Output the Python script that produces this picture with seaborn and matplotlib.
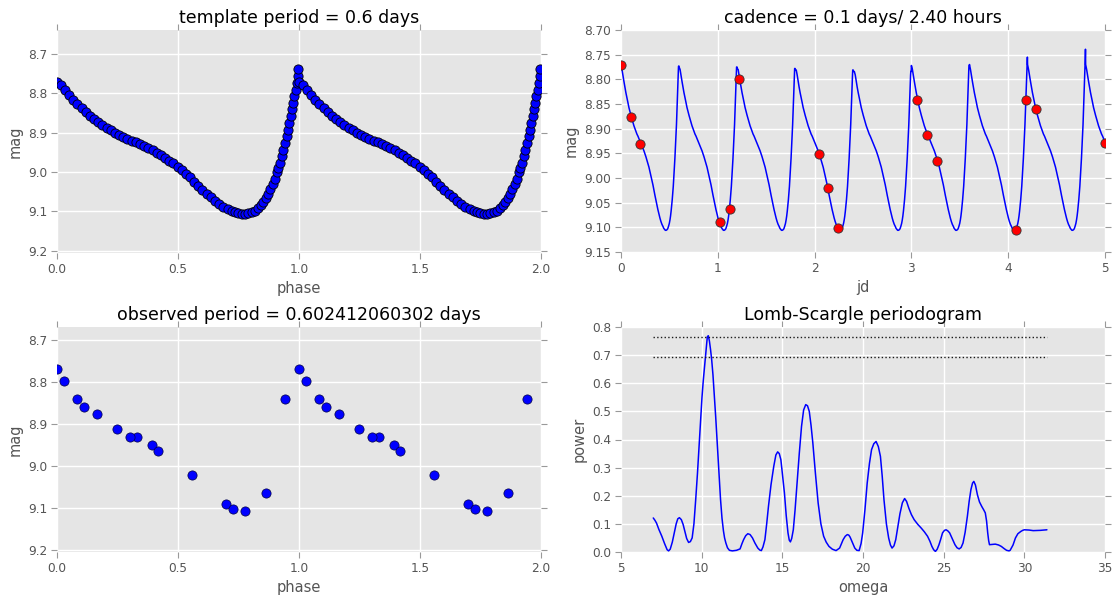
import numpy as np
import matplotlib
matplotlib.use("Agg")
import matplotlib.pyplot as plt
import seaborn as sns

# ---------------- data ----------------
template_period = 0.6
observed_period = 0.602412060302

template_phase = [0.000, 0.017, 0.033, 0.050, 0.067, 0.084, 0.102, 0.119, 0.136, 0.153,
                  0.171, 0.188, 0.205, 0.222, 0.240, 0.257, 0.274, 0.291, 0.309, 0.326,
                  0.343, 0.360, 0.377, 0.395, 0.412, 0.429, 0.446, 0.463, 0.481, 0.498,
                  0.515, 0.532, 0.550, 0.567, 0.584, 0.601, 0.618, 0.635, 0.653, 0.670,
                  0.687, 0.705, 0.722, 0.736, 0.749, 0.763, 0.777, 0.790, 0.804, 0.818,
                  0.832, 0.843, 0.853, 0.863, 0.873, 0.882, 0.891, 0.900, 0.908, 0.915,
                  0.921, 0.928, 0.935, 0.942, 0.949, 0.955, 0.960, 0.966, 0.971, 0.976,
                  0.981, 0.986, 0.990, 0.994, 0.997]
template_mag = [8.770, 8.780, 8.791, 8.804, 8.816, 8.827, 8.837, 8.847, 8.857, 8.865,
                8.873, 8.880, 8.887, 8.894, 8.900, 8.906, 8.911, 8.915, 8.920, 8.925,
                8.930, 8.935, 8.940, 8.945, 8.951, 8.957, 8.964, 8.971, 8.978, 8.987,
                8.996, 9.005, 9.014, 9.025, 9.035, 9.045, 9.055, 9.064, 9.073, 9.081,
                9.088, 9.094, 9.098, 9.102, 9.104, 9.106, 9.106, 9.105, 9.103, 9.098,
                9.092, 9.085, 9.077, 9.067, 9.055, 9.044, 9.031, 9.017, 9.001, 8.989,
                8.976, 8.960, 8.943, 8.926, 8.909, 8.892, 8.875, 8.858, 8.841, 8.825,
                8.808, 8.791, 8.774, 8.755, 8.739]

# brightest level reached by the sampled light curve in each cycle (top-right panel)
cycle_peak_mag = [8.773, 8.775, 8.778, 8.781, 8.784, 8.772, 8.755, 8.737, 8.737]

obs_jd = [0.0, 0.1, 0.2, 1.023, 1.123, 1.223, 2.043, 2.143, 2.245,
          3.061, 3.162, 3.264, 4.082, 4.183, 4.284, 5.0]
obs_mag = [8.770, 8.876, 8.932, 9.089, 9.063, 8.799, 8.951, 9.021, 9.102,
           8.841, 8.913, 8.965, 9.106, 8.841, 8.861, 8.930]

omega = [7.0, 7.1, 7.2, 7.35, 7.53, 7.7, 7.86, 7.95, 8.05, 8.18,
         8.3, 8.42, 8.52, 8.62, 8.74, 8.85, 8.95, 9.07, 9.19, 9.3,
         9.41, 9.52, 9.63, 9.74, 9.85, 9.94, 10.02, 10.1, 10.18, 10.27,
         10.35, 10.41, 10.48, 10.55, 10.62, 10.7, 10.78, 10.87, 10.95, 11.06,
         11.17, 11.26, 11.35, 11.42, 11.5, 11.6, 11.72, 11.9, 12.16, 12.38,
         12.5, 12.6, 12.73, 12.86, 13.0, 13.15, 13.3, 13.48, 13.6, 13.7,
         13.8, 13.92, 14.03, 14.14, 14.3, 14.47, 14.6, 14.71, 14.81, 14.91,
         15.02, 15.13, 15.24, 15.35, 15.43, 15.5, 15.58, 15.68, 15.79, 15.9,
         16.05, 16.19, 16.32, 16.45, 16.56, 16.67, 16.78, 16.89, 17.05, 17.22,
         17.39, 17.56, 17.72, 17.89, 18.1, 18.33, 18.55, 18.77, 18.9, 19.03,
         19.12, 19.2, 19.35, 19.49, 19.62, 19.76, 19.88, 19.98, 20.12, 20.26,
         20.4, 20.53, 20.67, 20.81, 20.95, 21.08, 21.19, 21.3, 21.45, 21.59,
         21.7, 21.8, 21.92, 22.03, 22.16, 22.29, 22.44, 22.58, 22.7, 22.84,
         23.0, 23.17, 23.4, 23.61, 23.8, 24.0, 24.15, 24.27, 24.38, 24.49,
         24.6, 24.71, 24.82, 24.93, 25.05, 25.15, 25.26, 25.37, 25.55, 25.7,
         25.83, 25.96, 26.08, 26.2, 26.33, 26.47, 26.58, 26.69, 26.79, 26.87,
         26.97, 27.09, 27.22, 27.36, 27.48, 27.58, 27.66, 27.73, 27.79, 27.84,
         28.0, 28.2, 28.4, 28.57, 28.75, 28.9, 29.05, 29.12, 29.3, 29.45,
         29.6, 29.78, 29.9, 30.0, 30.3, 30.55, 31.0, 31.4]
power = [0.121, 0.113, 0.103, 0.080, 0.056, 0.030, 0.008, 0.004, 0.010, 0.035,
         0.068, 0.100, 0.118, 0.122, 0.115, 0.098, 0.075, 0.048, 0.034, 0.037,
         0.050, 0.100, 0.186, 0.280, 0.388, 0.480, 0.550, 0.610, 0.660, 0.720,
         0.765, 0.769, 0.750, 0.720, 0.684, 0.630, 0.560, 0.480, 0.400, 0.290,
         0.186, 0.120, 0.075, 0.050, 0.032, 0.015, 0.006, 0.004, 0.006, 0.011,
         0.030, 0.044, 0.058, 0.065, 0.062, 0.050, 0.032, 0.014, 0.007, 0.005,
         0.018, 0.044, 0.100, 0.162, 0.240, 0.305, 0.345, 0.356, 0.350, 0.328,
         0.270, 0.210, 0.130, 0.068, 0.042, 0.036, 0.048, 0.079, 0.150, 0.234,
         0.350, 0.447, 0.505, 0.524, 0.520, 0.500, 0.450, 0.388, 0.280, 0.174,
         0.100, 0.056, 0.035, 0.020, 0.010, 0.005, 0.014, 0.044, 0.056, 0.062,
         0.060, 0.053, 0.033, 0.014, 0.006, 0.005, 0.030, 0.068, 0.150, 0.245,
         0.315, 0.364, 0.385, 0.393, 0.375, 0.340, 0.270, 0.186, 0.100, 0.050,
         0.025, 0.014, 0.022, 0.044, 0.090, 0.136, 0.175, 0.190, 0.180, 0.156,
         0.133, 0.115, 0.098, 0.085, 0.072, 0.056, 0.038, 0.020, 0.008, 0.002,
         0.010, 0.026, 0.046, 0.068, 0.077, 0.079, 0.075, 0.068, 0.045, 0.026,
         0.015, 0.011, 0.016, 0.032, 0.070, 0.127, 0.180, 0.222, 0.245, 0.251,
         0.238, 0.204, 0.178, 0.162, 0.150, 0.139, 0.110, 0.068, 0.040, 0.026,
         0.027, 0.028, 0.025, 0.020, 0.012, 0.006, 0.004, 0.006, 0.025, 0.050,
         0.065, 0.073, 0.077, 0.079, 0.078, 0.076, 0.077, 0.079]
significance_levels = [0.764, 0.693]

titles = ["template period = 0.6 days",
          "cadence = 0.1 days/ 2.40 hours",
          "observed period = 0.602412060302 days",
          "Lomb-Scargle periodogram"]

# ---------------- style ----------------
sns.set_theme(style="darkgrid", rc={
    "axes.facecolor": "#E5E5E5",
    "grid.color": "white",
    "grid.linewidth": 1.0,
    "axes.edgecolor": "#E5E5E5",
})
plt.rcParams["font.family"] = ["DejaVu Sans"]
plt.rcParams["xtick.color"] = "#555555"
plt.rcParams["ytick.color"] = "#555555"
plt.rcParams["axes.labelcolor"] = "#555555"

fig = plt.figure(figsize=(11.12, 5.98), dpi=100)
W, H = 1112.0, 598.0

def make_ax(left, top, right, bottom):
    return fig.add_axes([left / W, 1 - bottom / H, (right - left) / W, (bottom - top) / H])

ax1 = make_ax(57, 30, 541, 253)
ax2 = make_ax(621, 30, 1105, 252)
ax3 = make_ax(57, 327, 541, 552)
ax4 = make_ax(621, 327, 1105, 552)

tp = np.array(template_phase)
tm = np.array(template_mag)

# template folded twice
sns.scatterplot(x=np.concatenate([tp, tp + 1]), y=np.concatenate([tm, tm]), ax=ax1,
                color="#0000FF", edgecolor="black", linewidth=0.6, s=44, zorder=3)

# template light curve over the cadence window
line_x, line_y = [], []
for k, pk in enumerate(cycle_peak_mag):
    line_x.append(template_period * (k + tp))
    line_y.append(np.maximum(tm, pk))
sns.lineplot(x=np.concatenate(line_x), y=np.concatenate(line_y), ax=ax2, sort=False,
             estimator=None, color="#0000FF", lw=1.1, zorder=2)
sns.scatterplot(x=obs_jd, y=obs_mag, ax=ax2, color="#FF0000", edgecolor="#333333",
                linewidth=0.6, s=44, zorder=3)

# observed data folded with observed period
ph = (np.array(obs_jd) / observed_period) % 1.0
sns.scatterplot(x=np.concatenate([ph, ph + 1]), y=np.concatenate([obs_mag, obs_mag]), ax=ax3,
                color="#0000FF", edgecolor="#000044", linewidth=0.5, s=44, zorder=3)

# periodogram
sns.lineplot(x=omega, y=power, ax=ax4, sort=False, estimator=None,
             color="#0000FF", lw=1.1, zorder=2)
for lvl in significance_levels:
    ax4.plot([omega[0], omega[-1]], [lvl, lvl], "k:", lw=1.0, zorder=2)

# axes settings
ax1.set_xlim(0, 2); ax1.set_ylim(9.206, 8.639)
ax1.set_xticks([0.0, 0.5, 1.0, 1.5, 2.0]); ax1.set_yticks([8.7, 8.8, 8.9, 9.0, 9.1, 9.2])
ax1.set_xticklabels(["0.0", "0.5", "1.0", "1.5", "2.0"])
ax1.set_yticklabels(["8.7", "8.8", "8.9", "9.0", "9.1", "9.2"])
ax1.set_xlabel("phase"); ax1.set_ylabel("mag")

ax2.set_xlim(0, 5); ax2.set_ylim(9.15, 8.70)
ax2.set_xticks(range(6))
yt2 = [8.70, 8.75, 8.80, 8.85, 8.90, 8.95, 9.00, 9.05, 9.10, 9.15]
ax2.set_yticks(yt2); ax2.set_yticklabels([f"{v:.2f}" for v in yt2])
ax2.set_xlabel("jd"); ax2.set_ylabel("mag")

ax3.set_xlim(0, 2); ax3.set_ylim(9.204, 8.67)
ax3.set_xticks([0.0, 0.5, 1.0, 1.5, 2.0]); ax3.set_yticks([8.7, 8.8, 8.9, 9.0, 9.1, 9.2])
ax3.set_xticklabels(["0.0", "0.5", "1.0", "1.5", "2.0"])
ax3.set_yticklabels(["8.7", "8.8", "8.9", "9.0", "9.1", "9.2"])
ax3.set_xlabel("phase"); ax3.set_ylabel("mag")

ax4.set_xlim(5, 35); ax4.set_ylim(0, 0.8)
ax4.set_xticks(range(5, 36, 5))
yt4 = [0.0, 0.1, 0.2, 0.3, 0.4, 0.5, 0.6, 0.7, 0.8]
ax4.set_yticks(yt4); ax4.set_yticklabels([f"{v:.1f}" for v in yt4])
ax4.set_xlabel("omega"); ax4.set_ylabel("power")

for ax, t in zip([ax1, ax2, ax3, ax4], titles):
    ax.set_title(t, fontsize=12.5, color="black", pad=5)
    ax.xaxis.label.set_size(10.5)
    ax.yaxis.label.set_size(10.5)
    ax.tick_params(which="both", direction="out", top=True, right=True,
                   bottom=True, left=True, length=4, width=0.8,
                   color="#999999", labelsize=8.7, labelcolor="#555555", pad=3)
    for s in ax.spines.values():
        s.set_visible(False)
    ax.grid(True, color="white", lw=1.0)
    ax.set_axisbelow(True)

fig.savefig("out.png", dpi=100, facecolor="white")
